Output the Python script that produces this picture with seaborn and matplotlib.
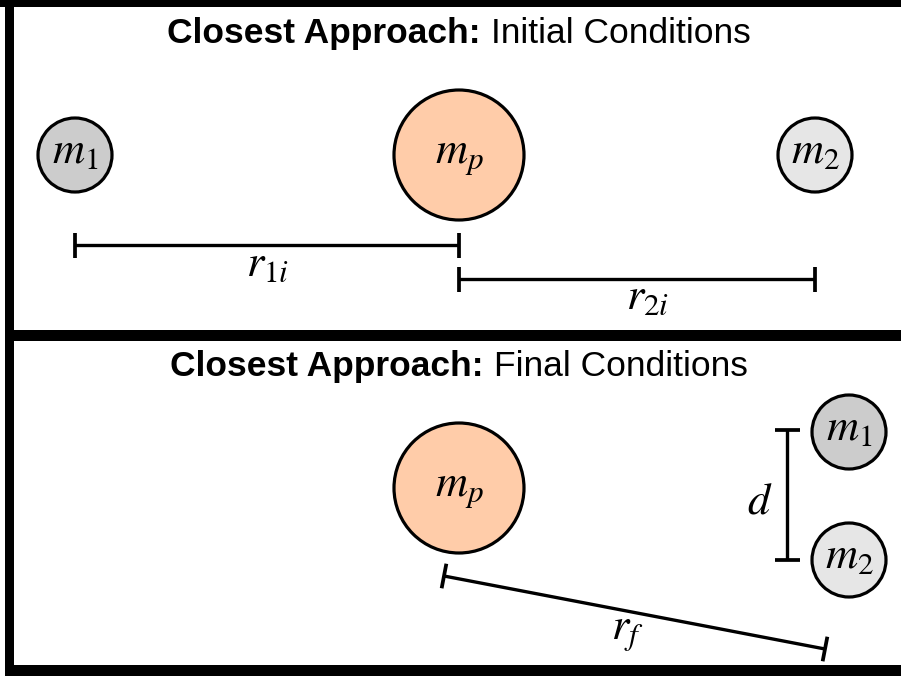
import numpy as np
import pandas as pd
import matplotlib.pyplot as plt
from matplotlib.patches import Rectangle
import seaborn as sns

sns.set_theme(style="white")
plt.rcParams['font.family'] = ['Liberation Sans', 'DejaVu Sans']
plt.rcParams['mathtext.fontset'] = 'stix'
plt.rcParams['text.color'] = 'black'

# canvas is in pixel units (901 x 678), y grows downwards
W, H = 901, 678

# bodies: position, radius, kind
body_x = [75, 459, 815, 459, 849, 849]
body_y = [155, 155, 155, 488, 432, 560]
body_r = [37, 65, 37, 65, 37, 37]
body_kind = ['m1', 'mp', 'm2', 'mp', 'm1', 'm2']
body_label = {'m1': r'$m_1$', 'mp': r'$m_p$', 'm2': r'$m_2$'}
body_color = {'m1': '#cccccc', 'mp': '#ffcca9', 'm2': '#e6e6e6'}

# distance bars: start, end, label and label position
bar_start = [(75, 245), (459, 279), (787, 430), (444, 576)]
bar_end = [(459, 245), (815, 279), (787, 560), (825, 649)]
bar_label = [r'$r_{1i}$', r'$r_{2i}$', r'$d$', r'$r_f$']
bar_label_pos = [(268, 276), (648, 309), (760, 514), (627, 639)]

# panel titles
title_bold = ['Closest Approach:', 'Closest Approach:']
title_rest = ['Initial Conditions', 'Final Conditions']
title_pos = [(459, 43), (459, 376)]

bodies = pd.DataFrame({'x': body_x, 'y': body_y, 'r': body_r, 'kind': body_kind})
bodies['s'] = (2 * bodies['r'] * 0.72) ** 2

fig = plt.figure(figsize=(9.01, 6.78), dpi=100)
ax = fig.add_axes([0, 0, 1, 1])
ax.set_xlim(0, W)
ax.set_ylim(H, 0)
ax.axis('off')

# frame lines
for (x, y, w, h) in [(0, 0, W, 7), (5, 0, 9, H - 2), (5, 330, W, 11), (5, 665, W, 11)]:
    ax.add_patch(Rectangle((x, y), w, h, color='black', lw=0, zorder=1))

# bars with end caps
cap = 12.5
for (x0, y0), (x1, y1) in zip(bar_start, bar_end):
    ax.plot([x0, x1], [y0, y1], color='black', lw=2.4, solid_capstyle='butt', zorder=2)
    v = np.array([x1 - x0, y1 - y0], dtype=float)
    n = np.array([-v[1], v[0]]) / np.hypot(*v)
    for px, py in [(x0, y0), (x1, y1)]:
        ax.plot([px - n[0] * cap, px + n[0] * cap], [py - n[1] * cap, py + n[1] * cap],
                color='black', lw=2.7, solid_capstyle='butt', zorder=2)

for lab, (lx, ly) in zip(bar_label, bar_label_pos):
    ax.text(lx, ly, lab, ha='center', va='baseline', fontsize=32, color='black', zorder=4)

# bodies
sns.scatterplot(data=bodies, x='x', y='y', hue='kind', palette=body_color,
                s=bodies['s'].values, edgecolor='black', linewidth=2.3,
                legend=False, ax=ax, zorder=3)
ax.set_xlim(0, W)
ax.set_ylim(H, 0)
ax.axis('off')

for _, row in bodies.iterrows():
    ax.text(row['x'], row['y'] + 8, body_label[row['kind']], ha='center', va='baseline',
            fontsize=32, color='black', zorder=4)

# titles: bold part + normal part, centred together
fig.canvas.draw()
renderer = fig.canvas.get_renderer()
for tb, tr, (cx, cy) in zip(title_bold, title_rest, title_pos):
    t1 = ax.text(0, cy, tb, fontsize=25.5, fontweight='bold', ha='left', va='baseline', color='black')
    t2 = ax.text(0, cy, tr, fontsize=25.5, ha='left', va='baseline', color='black')
    w1 = t1.get_window_extent(renderer).width
    w2 = t2.get_window_extent(renderer).width
    gap = 10
    x_start = cx - (w1 + gap + w2) / 2
    t1.set_x(x_start)
    t2.set_x(x_start + w1 + gap)

fig.savefig('out.png', dpi=100)
